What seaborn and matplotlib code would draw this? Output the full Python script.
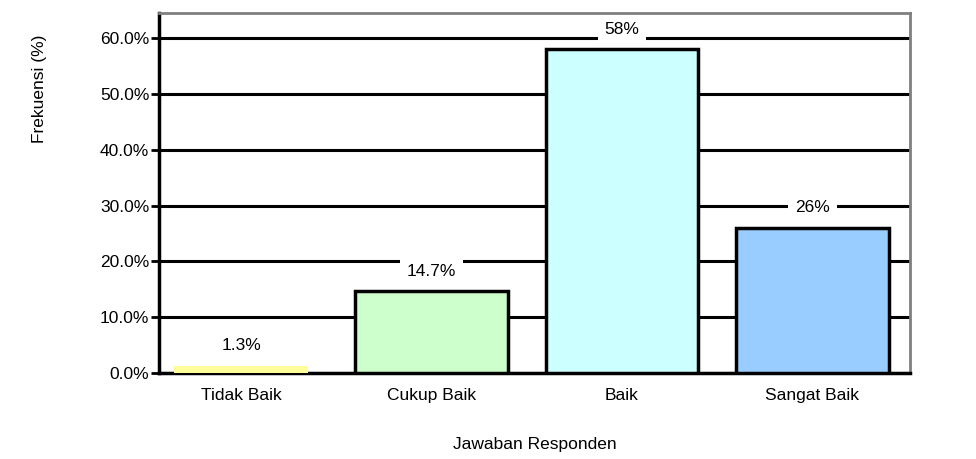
import matplotlib
matplotlib.use("Agg")
import matplotlib.pyplot as plt
import seaborn as sns
import pandas as pd

categories = ["Tidak Baik", "Cukup Baik", "Baik", "Sangat Baik"]
values = [1.3, 14.7, 58.0, 26.0]
value_labels = ["1.3%", "14.7%", "58%", "26%"]
colors = ["#FFFF99", "#CCFFCC", "#CCFFFF", "#99CCFF"]
yticks = [0, 10, 20, 30, 40, 50, 60]
ytick_labels = ["0.0%", "10.0%", "20.0%", "30.0%", "40.0%", "50.0%", "60.0%"]

sns.set_theme(style="white")
plt.rcParams["font.family"] = ["Liberation Sans", "DejaVu Sans"]
plt.rcParams["text.color"] = "black"
plt.rcParams["axes.labelcolor"] = "black"
plt.rcParams["xtick.color"] = "black"
plt.rcParams["ytick.color"] = "black"

df = pd.DataFrame({"cat": categories, "val": values})

fig = plt.figure(figsize=(9.76, 4.59), dpi=100)
ax = fig.add_axes([0.163, 0.187, 0.769, 0.785])

sns.barplot(data=df, x="cat", y="val", hue="cat", palette=colors, legend=False,
            width=0.8, saturation=1, ax=ax, zorder=3)

for i, cont in enumerate(ax.containers):
    for p in cont:
        if p is None:
            continue
        if i == 0:
            c = p.get_x() + p.get_width() / 2
            p.set_width(0.7)
            p.set_x(c - 0.35)
            p.set_edgecolor("none")
            p.set_linewidth(0)
        else:
            p.set_edgecolor("black")
            p.set_linewidth(2.5)

ax.set_ylim(0, 64.5)
ax.set_xlim(-0.43, 3.51)
ax.set_yticks(yticks)
ax.set_yticklabels(ytick_labels, fontsize=12.5)
ax.yaxis.grid(True, color="black", linewidth=2.2, zorder=0)
ax.set_axisbelow(True)
ax.tick_params(axis="y", length=6, width=2, color="black", pad=1, left=True)
ax.tick_params(axis="x", length=0, pad=11)
ax.set_xticks(range(len(categories)))
ax.set_xticklabels(categories, fontsize=12.5)

for sp in ["left", "bottom"]:
    ax.spines[sp].set_color("black")
    ax.spines[sp].set_linewidth(2.5)
for sp in ["top", "right"]:
    ax.spines[sp].set_color("#808080")
    ax.spines[sp].set_linewidth(2)

for i, cont in enumerate(ax.containers):
    bars = [b for b in cont if b is not None]
    if not bars:
        continue
    b = bars[0]
    x = b.get_x() + b.get_width() / 2
    ax.annotate(value_labels[i], (x, b.get_height()), xytext=(0, 9),
                textcoords="offset points", ha="center", va="bottom",
                fontsize=12.5, zorder=4,
                bbox=dict(facecolor="white", edgecolor="none", pad=5))

ax.set_ylabel("Frekuensi (%)", fontsize=12.5)
ax.yaxis.set_label_coords(-0.15, 0.79)
ax.set_xlabel("Jawaban Responden", fontsize=12.5, labelpad=24)

fig.savefig("out.png", dpi=100)
